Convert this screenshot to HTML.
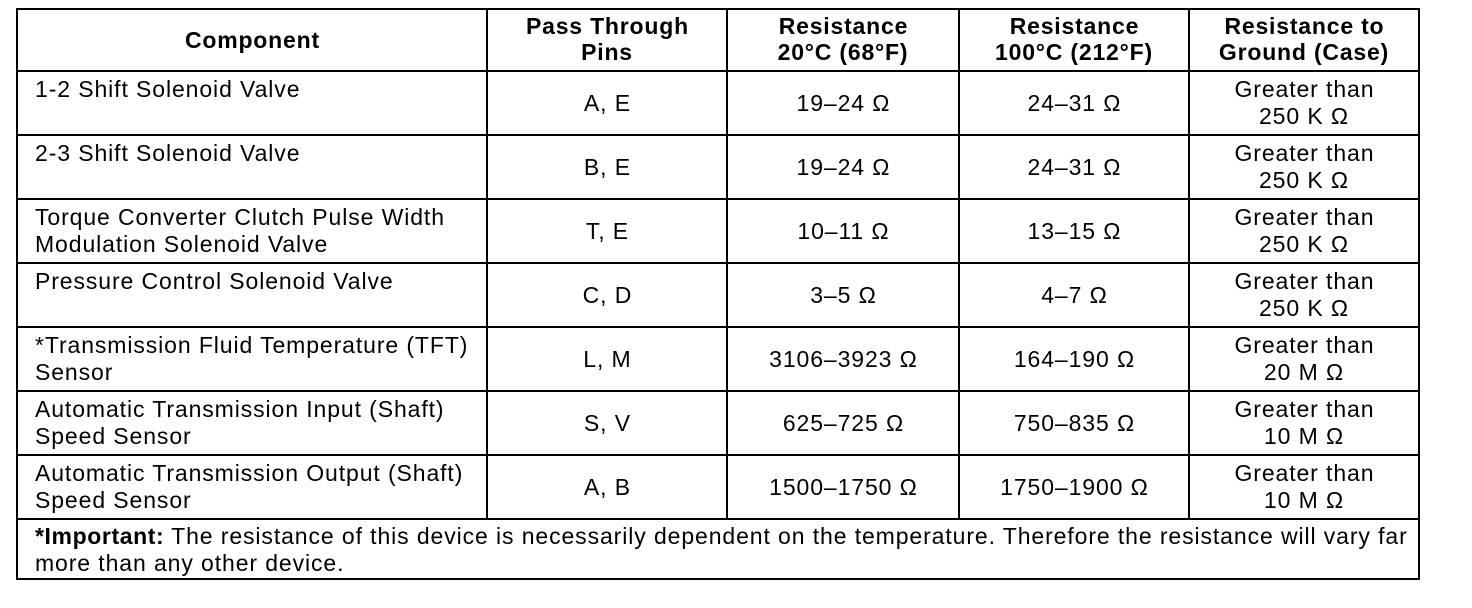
<!DOCTYPE html>
<html><head><style>
body{margin:0;width:1472px;height:608px;background:#fff;position:relative;overflow:hidden;font-family:"Liberation Sans",Arial,sans-serif;color:#000}
.h,.v{position:absolute;background:#000}
.h{height:2px}.v{width:2px}
.c{position:absolute;display:flex;align-items:center;justify-content:center;text-align:center;font-size:23px;line-height:27px;letter-spacing:0.9px;text-indent:0.9px}
.b{font-weight:bold;letter-spacing:0.8px;line-height:26px}
.l{position:absolute;font-size:23px;line-height:27px;letter-spacing:0.9px;white-space:nowrap}
</style></head><body>
<div class="h" style="left:16px;top:8px;width:1404px"></div>
<div class="h" style="left:16px;top:70px;width:1404px"></div>
<div class="h" style="left:16px;top:134px;width:1404px"></div>
<div class="h" style="left:16px;top:198px;width:1404px"></div>
<div class="h" style="left:16px;top:262px;width:1404px"></div>
<div class="h" style="left:16px;top:326px;width:1404px"></div>
<div class="h" style="left:16px;top:390px;width:1404px"></div>
<div class="h" style="left:16px;top:454px;width:1404px"></div>
<div class="h" style="left:16px;top:518px;width:1404px"></div>
<div class="h" style="left:16px;top:578px;width:1404px"></div>
<div class="v" style="left:16px;top:8px;height:572px"></div>
<div class="v" style="left:1418px;top:8px;height:572px"></div>
<div class="v" style="left:486px;top:8px;height:512px"></div>
<div class="v" style="left:726px;top:8px;height:512px"></div>
<div class="v" style="left:958px;top:8px;height:512px"></div>
<div class="v" style="left:1188px;top:8px;height:512px"></div>

<div class="c b" style="left:18px;top:10px;width:468px;height:60px">Component</div>
<div class="c b" style="left:488px;top:9px;width:238px;height:60px">Pass Through<br>Pins</div>
<div class="c b" style="left:728px;top:9px;width:230px;height:60px">Resistance<br>20°C (68°F)</div>
<div class="c b" style="left:960px;top:9px;width:228px;height:60px">Resistance<br>100°C (212°F)</div>
<div class="c b" style="left:1190px;top:9px;width:228px;height:60px">Resistance to<br>Ground (Case)</div>

<div class="l" style="left:35px;top:76px">1-2 Shift Solenoid Valve</div>
<div class="l" style="left:35px;top:140px">2-3 Shift Solenoid Valve</div>
<div class="l" style="left:35px;top:204px">Torque Converter Clutch Pulse Width<br>Modulation Solenoid Valve</div>
<div class="l" style="left:35px;top:268px">Pressure Control Solenoid Valve</div>
<div class="l" style="left:35px;top:332px">*Transmission Fluid Temperature (TFT)<br>Sensor</div>
<div class="l" style="left:35px;top:396px">Automatic Transmission Input (Shaft)<br>Speed Sensor</div>
<div class="l" style="left:35px;top:460px">Automatic Transmission Output (Shaft)<br>Speed Sensor</div>

<div class="c" style="left:488px;top:72px;width:238px;height:62px">A, E</div>
<div class="c" style="left:488px;top:136px;width:238px;height:62px">B, E</div>
<div class="c" style="left:488px;top:200px;width:238px;height:62px">T, E</div>
<div class="c" style="left:488px;top:264px;width:238px;height:62px">C, D</div>
<div class="c" style="left:488px;top:328px;width:238px;height:62px">L, M</div>
<div class="c" style="left:488px;top:392px;width:238px;height:62px">S, V</div>
<div class="c" style="left:488px;top:456px;width:238px;height:62px">A, B</div>

<div class="c" style="left:728px;top:72px;width:230px;height:62px">19–24 Ω</div>
<div class="c" style="left:728px;top:136px;width:230px;height:62px">19–24 Ω</div>
<div class="c" style="left:728px;top:200px;width:230px;height:62px">10–11 Ω</div>
<div class="c" style="left:728px;top:264px;width:230px;height:62px">3–5 Ω</div>
<div class="c" style="left:728px;top:328px;width:230px;height:62px">3106–3923 Ω</div>
<div class="c" style="left:728px;top:392px;width:230px;height:62px">625–725 Ω</div>
<div class="c" style="left:728px;top:456px;width:230px;height:62px">1500–1750 Ω</div>

<div class="c" style="left:960px;top:72px;width:228px;height:62px">24–31 Ω</div>
<div class="c" style="left:960px;top:136px;width:228px;height:62px">24–31 Ω</div>
<div class="c" style="left:960px;top:200px;width:228px;height:62px">13–15 Ω</div>
<div class="c" style="left:960px;top:264px;width:228px;height:62px">4–7 Ω</div>
<div class="c" style="left:960px;top:328px;width:228px;height:62px">164–190 Ω</div>
<div class="c" style="left:960px;top:392px;width:228px;height:62px">750–835 Ω</div>
<div class="c" style="left:960px;top:456px;width:228px;height:62px">1750–1900 Ω</div>

<div class="c" style="left:1190px;top:72px;width:228px;height:62px">Greater than<br>250 K Ω</div>
<div class="c" style="left:1190px;top:136px;width:228px;height:62px">Greater than<br>250 K Ω</div>
<div class="c" style="left:1190px;top:200px;width:228px;height:62px">Greater than<br>250 K Ω</div>
<div class="c" style="left:1190px;top:264px;width:228px;height:62px">Greater than<br>250 K Ω</div>
<div class="c" style="left:1190px;top:328px;width:228px;height:62px">Greater than<br>20 M Ω</div>
<div class="c" style="left:1190px;top:392px;width:228px;height:62px">Greater than<br>10 M Ω</div>
<div class="c" style="left:1190px;top:456px;width:228px;height:62px">Greater than<br>10 M Ω</div>

<div class="l" style="left:35px;top:523px"><b style="letter-spacing:0.6px">*Important:</b> The resistance of this device is necessarily dependent on the temperature. Therefore the resistance will vary far<br>more than any other device.</div>
</body></html>
